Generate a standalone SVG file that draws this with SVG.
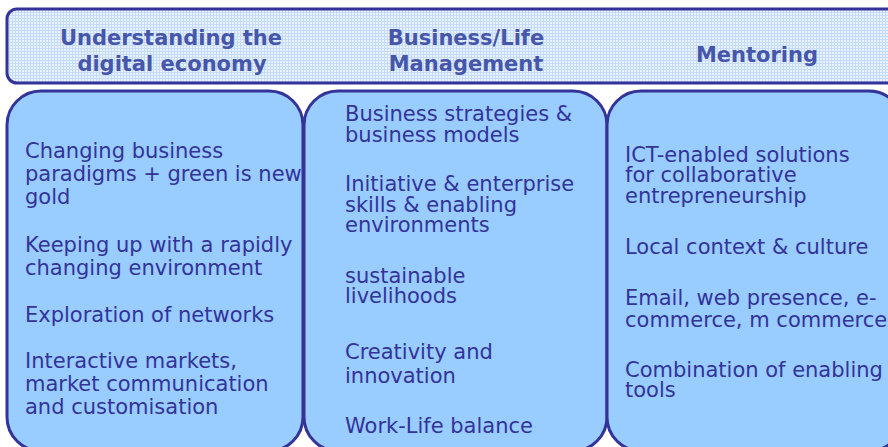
<svg xmlns="http://www.w3.org/2000/svg" width="888" height="447" viewBox="0 0 888 447">
<defs>
<pattern id="grid" width="3" height="3" patternUnits="userSpaceOnUse">
<rect width="3" height="3" fill="#e8f2ff"/>
<path d="M0 0.5H3M0.5 0V3" stroke="#c6dcf6" stroke-width="1"/>
</pattern>
</defs>
<style>
.hdr{fill:url(#grid);stroke:#333399;stroke-width:3}
.panel{fill:#99ccff;stroke:#333399;stroke-width:3}
.ht{font-family:"DejaVu Sans",Verdana,sans-serif;font-weight:bold;font-size:21px;fill:#4656aa;text-anchor:middle}
.bt{font-family:"DejaVu Sans",Verdana,sans-serif;font-size:21px;fill:#333399}
</style>
<rect width="888" height="447" fill="#ffffff"/>
<g id="header">
<rect class="hdr" x="7" y="9" width="900" height="74" rx="10" ry="10"/>
<text class="ht" x="171" y="45">Understanding the</text>
<text class="ht" x="172" y="71">digital economy</text>
<text class="ht" x="466" y="45">Business/Life</text>
<text class="ht" x="466" y="71">Management</text>
<text class="ht" x="757" y="62">Mentoring</text>
</g>
<g id="panel-digital-economy">
<rect class="panel" x="7" y="91" width="296" height="360" rx="34" ry="34"/>
<text class="bt">
<tspan x="25" y="158">Changing business</tspan>
<tspan x="25" y="181">paradigms + green is new</tspan>
<tspan x="25" y="204">gold</tspan>
<tspan x="25" y="252">Keeping up with a rapidly</tspan>
<tspan x="25" y="275">changing environment</tspan>
<tspan x="25" y="322">Exploration of networks</tspan>
<tspan x="25" y="368">Interactive markets,</tspan>
<tspan x="25" y="391">market communication</tspan>
<tspan x="25" y="414">and customisation</tspan>
</text>
</g>
<g id="panel-business-life">
<rect class="panel" x="304" y="91" width="303" height="360" rx="34" ry="34"/>
<text class="bt">
<tspan x="345" y="121">Business strategies &amp;</tspan>
<tspan x="345" y="142">business models</tspan>
<tspan x="345" y="191">Initiative &amp; enterprise</tspan>
<tspan x="345" y="212">skills &amp; enabling</tspan>
<tspan x="345" y="232">environments</tspan>
<tspan x="345" y="283">sustainable</tspan>
<tspan x="345" y="303">livelihoods</tspan>
<tspan x="345" y="359">Creativity and</tspan>
<tspan x="345" y="383">innovation</tspan>
<tspan x="345" y="433">Work-Life balance</tspan>
</text>
</g>
<g id="panel-mentoring">
<rect class="panel" x="607" y="91" width="296" height="360" rx="34" ry="34"/>
<text class="bt">
<tspan x="625" y="162">ICT-enabled solutions</tspan>
<tspan x="625" y="182">for collaborative</tspan>
<tspan x="625" y="203">entrepreneurship</tspan>
<tspan x="625" y="254">Local context &amp; culture</tspan>
<tspan x="625" y="305">Email, web presence, e-</tspan>
<tspan x="625" y="327">commerce, m commerce</tspan>
<tspan x="625" y="377">Combination of enabling</tspan>
<tspan x="625" y="397">tools</tspan>
</text>
</g>
</svg>
